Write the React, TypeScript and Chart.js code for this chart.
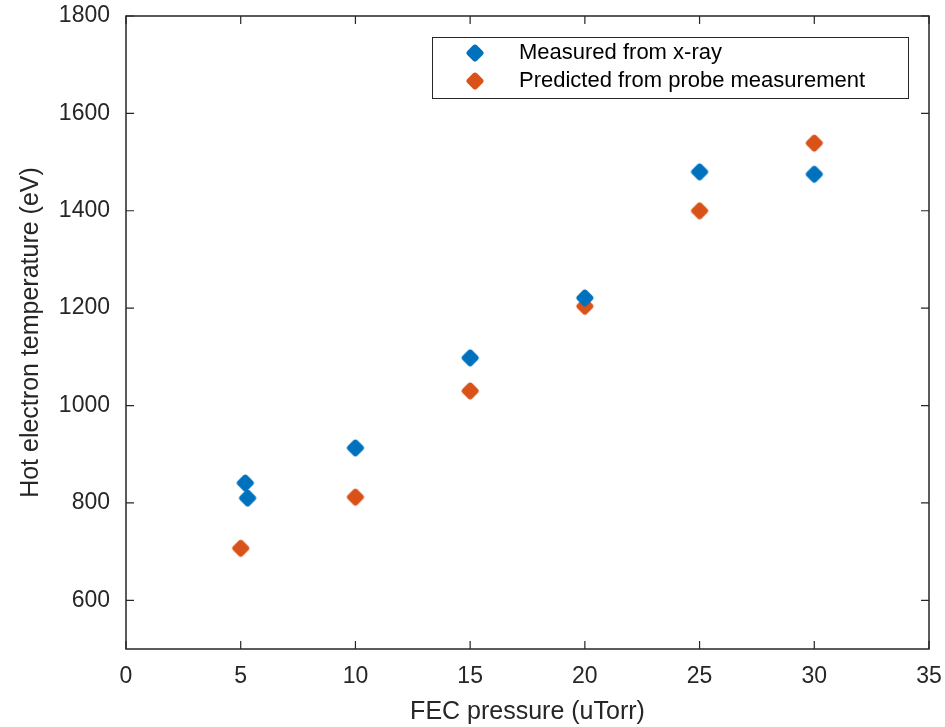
import React, { useEffect, useRef } from "react";
import { Chart, registerables } from "chart.js";

Chart.register(...registerables);

const seriesLabels = ["Measured from x-ray", "Predicted from probe measurement"];
const seriesColors = ["#0072BD", "#D95319"];

const measuredX = [5.2, 5.3, 10, 15, 20, 25, 30];
const measuredY = [841, 810, 913, 1098, 1221, 1480, 1475];

const predictedX = [5, 10, 15, 20, 25, 30];
const predictedY = [707, 812, 1030, 1204, 1400, 1539];

const xTicks = [0, 5, 10, 15, 20, 25, 30, 35];
const yTicks = [600, 800, 1000, 1200, 1400, 1600, 1800];

const FONT = "'Liberation Sans', Arial, Helvetica, sans-serif";

function makeMarker(color: string): HTMLCanvasElement {
  const c = document.createElement("canvas");
  c.width = 20;
  c.height = 20;
  const g = c.getContext("2d")!;
  g.fillStyle = color;
  g.strokeStyle = color;
  g.lineWidth = 5.5;
  g.lineJoin = "round";
  g.beginPath();
  g.moveTo(10, 4.3);
  g.lineTo(15.7, 10);
  g.lineTo(10, 15.7);
  g.lineTo(4.3, 10);
  g.closePath();
  g.fill();
  g.stroke();
  return c;
}

const boxPlugin = {
  id: "matlabBox",
  afterDraw(chart: any) {
    const { ctx, chartArea, scales } = chart;
    const { left, right, top, bottom } = chartArea;
    ctx.save();
    ctx.strokeStyle = "#262626";
    ctx.lineWidth = 1.5;
    ctx.strokeRect(left, top, right - left, bottom - top);
    ctx.lineWidth = 1.2;
    const tl = 8;
    ctx.beginPath();
    xTicks.forEach((v) => {
      const px = scales.x.getPixelForValue(v);
      ctx.moveTo(px, bottom);
      ctx.lineTo(px, bottom - tl);
      ctx.moveTo(px, top);
      ctx.lineTo(px, top + tl);
    });
    yTicks.forEach((v) => {
      const py = scales.y.getPixelForValue(v);
      ctx.moveTo(left, py);
      ctx.lineTo(left + tl, py);
      ctx.moveTo(right, py);
      ctx.lineTo(right - tl, py);
    });
    ctx.stroke();

    // legend
    const lx = 432, ly = 37, lw = 476, lh = 61;
    ctx.fillStyle = "#ffffff";
    ctx.fillRect(lx, ly, lw, lh);
    ctx.strokeStyle = "#262626";
    ctx.lineWidth = 1;
    ctx.strokeRect(lx + 0.5, ly + 0.5, lw, lh);
    ctx.font = `22px ${FONT}`;
    ctx.textBaseline = "middle";
    chart.data.datasets.forEach((ds: any, i: number) => {
      const cy = ly + 16 + i * 28;
      ctx.drawImage(ds.pointStyle, 475 - 10, cy - 10);
      ctx.fillStyle = "#000000";
      ctx.fillText(ds.label, 519, cy);
    });
    ctx.restore();
  },
};

export default function App() {
  const ref = useRef<HTMLCanvasElement>(null);
  useEffect(() => {
    document.body.style.margin = "0";
    const markers = seriesColors.map(makeMarker);
    const chart = new Chart(ref.current!, {
      type: "scatter",
      data: {
        datasets: [
          {
            label: seriesLabels[0],
            data: measuredX.map((x, i) => ({ x, y: measuredY[i] })),
            pointStyle: markers[0] as any,
            backgroundColor: seriesColors[0],
            borderColor: seriesColors[0],
          },
          {
            label: seriesLabels[1],
            data: predictedX.map((x, i) => ({ x, y: predictedY[i] })),
            pointStyle: markers[1] as any,
            backgroundColor: seriesColors[1],
            borderColor: seriesColors[1],
          },
        ],
      },
      options: {
        animation: false,
        responsive: false,
        layout: { padding: { top: 16, right: 16, left: 0, bottom: 0 } },
        plugins: { legend: { display: false }, tooltip: { enabled: false } },
        scales: {
          x: {
            type: "linear",
            min: 0,
            max: 35,
            afterBuildTicks: (s: any) => {
              s.ticks = xTicks.map((v) => ({ value: v }));
            },
            afterFit: (s: any) => {
              s.height = 78;
              s.paddingLeft = 0;
              s.paddingRight = 0;
            },
            grid: { display: false, drawTicks: false },
            border: { display: false },
            ticks: {
              padding: 14,
              color: "#262626",
              font: { family: FONT, size: 23 },
              maxRotation: 0,
              callback: (v: any) => String(v),
            },
            title: {
              display: true,
              text: "FEC pressure (uTorr)",
              color: "#262626",
              font: { family: FONT, size: 25 },
              padding: { top: 2, bottom: 0 },
            },
          },
          y: {
            type: "linear",
            min: 500,
            max: 1800,
            afterBuildTicks: (s: any) => {
              s.ticks = yTicks.map((v) => ({ value: v }));
            },
            afterFit: (s: any) => {
              s.width = 126;
              s.paddingTop = 0;
              s.paddingBottom = 0;
            },
            grid: { display: false, drawTicks: false },
            border: { display: false },
            ticks: {
              padding: 16,
              color: "#262626",
              font: { family: FONT, size: 23 },
              callback: (v: any) => String(v),
            },
            title: {
              display: true,
              text: "Hot electron temperature (eV)",
              color: "#262626",
              font: { family: FONT, size: 25 },
              padding: { top: 16, bottom: 0 },
            },
          },
        },
      },
      plugins: [boxPlugin],
    });
    return () => chart.destroy();
  }, []);
  return <canvas ref={ref} width={945} height={727} style={{ display: "block" }} />;
}
